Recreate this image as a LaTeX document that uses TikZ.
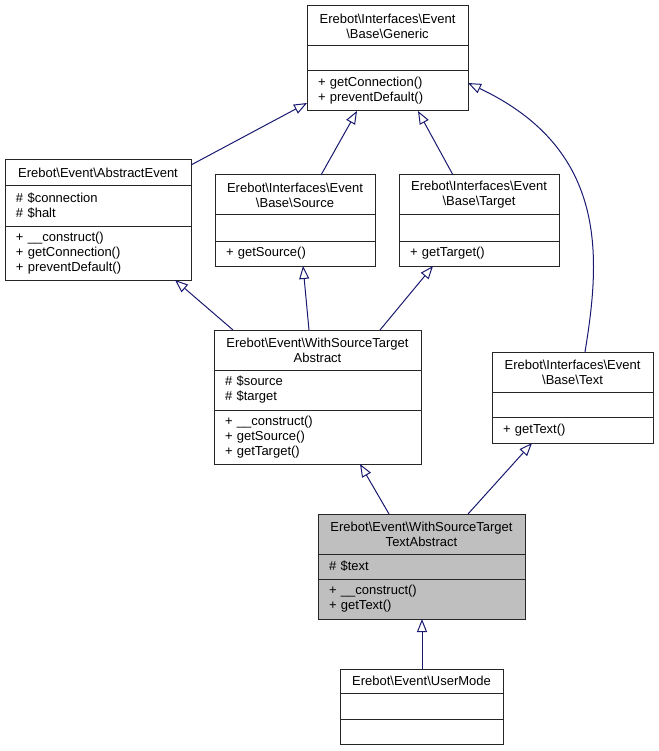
\documentclass[tikz,border=0pt]{standalone}
\usepackage{fontspec}
\setmainfont{Liberation Sans}
\usetikzlibrary{positioning,arrows.meta}

\definecolor{edgeblue}{RGB}{25,25,112}
\definecolor{grey75}{RGB}{191,191,191}
\newcommand{\bsl}{\textbackslash}

\tikzset{
  classbox/.style={draw=black!85, line width=1pt, fill=white, inner sep=0pt,
    outer sep=0pt, font=\fontsize{13}{15}\selectfont},
  classhead/.style={classbox, minimum width=#1, text width=#1, align=center},
  classpart/.style={classbox, minimum width=#1,
    /utils/exec={\pgfmathsetmacro\partw{#1-22}}, text width=\partw pt,
    inner xsep=11pt, align=left},
  isa/.style={draw=edgeblue, line width=1pt,
    -{Triangle[open, length=13pt, width=10pt]}}
}

\begin{document}
\begin{tikzpicture}[x=1pt, y=-1pt]
\useasboundingbox (0,0) rectangle (658,751);

% Base\Generic
\node[classhead=161, minimum height=40, anchor=north west] (generic) at (307,6)
  {Erebot\bsl Interfaces\bsl Event\\\bsl Base\bsl Generic};
\node[classpart=161, minimum height=25, below=0pt of generic] (genericAttr) {};
\node[classpart=161, minimum height=40, below=0pt of genericAttr] (genericOps)
  {+ getConnection()\\+ preventDefault()};

% AbstractEvent
\node[classhead=186, minimum height=26, anchor=north west] (abstract) at (5,160)
  {Erebot\bsl Event\bsl AbstractEvent};
\node[classpart=186, minimum height=40, below=0pt of abstract] (abstractAttr)
  {\# \$connection\\\# \$halt};
\node[classpart=186, minimum height=54, below=0pt of abstractAttr] (abstractOps)
  {+ \_\_construct()\\+ getConnection()\\+ preventDefault()};

% Base\Source
\node[classhead=160, minimum height=40, anchor=north west] (source) at (215,175)
  {Erebot\bsl Interfaces\bsl Event\\\bsl Base\bsl Source};
\node[classpart=160, minimum height=26, below=0pt of source] (sourceAttr) {};
\node[classpart=160, minimum height=25, below=0pt of sourceAttr] (sourceOps)
  {+ getSource()};

% Base\Target
\node[classhead=160, minimum height=40, anchor=north west] (target) at (399,175)
  {Erebot\bsl Interfaces\bsl Event\\\bsl Base\bsl Target};
\node[classpart=160, minimum height=26, below=0pt of target] (targetAttr) {};
\node[classpart=160, minimum height=25, below=0pt of targetAttr] (targetOps)
  {+ getTarget()};

% WithSourceTargetAbstract
\node[classhead=207, minimum height=40, anchor=north west] (withst) at (214,330)
  {Erebot\bsl Event\bsl WithSourceTarget\\Abstract};
\node[classpart=207, minimum height=40, below=0pt of withst] (withstAttr)
  {\# \$source\\\# \$target};
\node[classpart=207, minimum height=54, below=0pt of withstAttr] (withstOps)
  {+ \_\_construct()\\+ getSource()\\+ getTarget()};

% Base\Text
\node[classhead=161, minimum height=40, anchor=north west] (text) at (492,352)
  {Erebot\bsl Interfaces\bsl Event\\\bsl Base\bsl Text};
\node[classpart=161, minimum height=25, below=0pt of text] (textAttr) {};
\node[classpart=161, minimum height=26, below=0pt of textAttr] (textOps)
  {+ getText()};

% WithSourceTargetTextAbstract
\node[classhead=207, minimum height=40, fill=grey75, anchor=north west] (withstt) at (318,514)
  {Erebot\bsl Event\bsl WithSourceTarget\\TextAbstract};
\node[classpart=207, minimum height=25, fill=grey75, below=0pt of withstt] (withsttAttr)
  {\# \$text};
\node[classpart=207, minimum height=40, fill=grey75, below=0pt of withsttAttr] (withsttOps)
  {+ \_\_construct()\\+ getText()};

% UserMode
\node[classhead=163, minimum height=24, anchor=north west] (usermode) at (340,669)
  {Erebot\bsl Event\bsl UserMode};
\node[classpart=163, minimum height=26, below=0pt of usermode] (usermodeAttr) {};
\node[classpart=163, minimum height=25, below=0pt of usermodeAttr] (usermodeOps) {};

% inheritance
\draw[isa] ([yshift=-5pt]abstract.north east) -- ([yshift=8pt]genericOps.south west);
\draw[isa] ([xshift=106pt]source.north west) -- ([xshift=50pt]genericOps.south west);
\draw[isa] ([xshift=54pt]target.north west) -- ([xshift=111pt]genericOps.south west);
\draw[isa] ([xshift=93pt]text.north west)
  .. controls (600,260) and (610,150) .. ([yshift=-12pt]genericOps.north east);
\draw[isa] ([xshift=19pt]withst.north west) -- ([xshift=170pt]abstractOps.south west);
\draw[isa] ([xshift=95pt]withst.north west) -- ([xshift=88pt]sourceOps.south west);
\draw[isa] ([xshift=166pt]withst.north west) -- ([xshift=34pt]targetOps.south west);
\draw[isa] ([xshift=71pt]withstt.north west) -- ([xshift=146pt]withstOps.south west);
\draw[isa] ([xshift=150pt]withstt.north west) -- ([xshift=40pt]textOps.south west);
\draw[isa] ([xshift=82pt]usermode.north west) -- ([xshift=104pt]withsttOps.south west);
\end{tikzpicture}
\end{document}
